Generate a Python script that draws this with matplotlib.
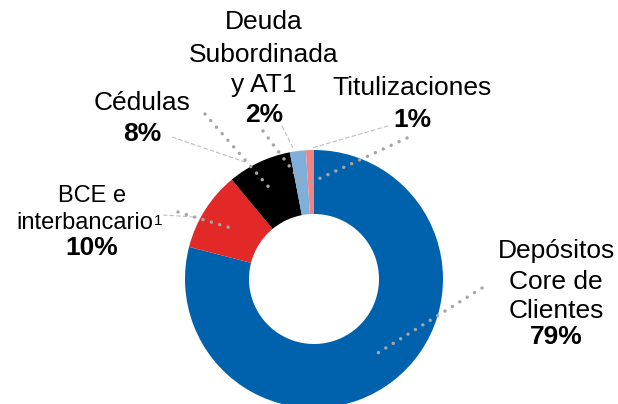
import matplotlib.pyplot as plt

# funding mix, clockwise from 12 o'clock
labels = ["Depósitos\nCore de\nClientes", "BCE e\ninterbancario", "Cédulas",
          "Deuda\nSubordinada\ny AT1", "Titulizaciones"]
shares = [79, 10, 8, 2, 1]
colors = ["#0062AD", "#E32828", "#000000", "#7FB0DC", "#F28484"]

W, H = 618, 404
plt.rcParams['font.family'] = ['Liberation Sans', 'DejaVu Sans']

fig = plt.figure(figsize=(W / 100, H / 100), dpi=100)
ax = fig.add_axes([0, 0, 1, 1])

# y axis inverted, so pixel rows can be used directly
ax.pie(shares, colors=colors, startangle=-90, counterclock=True,
       center=(314, 279), radius=129, frame=True,
       wedgeprops=dict(width=64, edgecolor='none', linewidth=0))
ax.set_xlim(0, W)
ax.set_ylim(H, 0)
ax.set_aspect('auto')
ax.axis('off')

# label blocks: centre x of each line, baseline of each line, font size of the name lines
label_pos = [
    ([556, 556, 556, 556], [258, 289, 318, 344], 19),
    ([92, 85, 92], [202, 229, 255], 17),
    ([142, 142], [110, 141], 19),
    ([264, 264, 264, 264], [29, 62, 92, 122], 19),
    ([412, 412], [95, 127], 19),
]
name_texts = []
for lab, share, (xs, ys, fs) in zip(labels, shares, label_pos):
    lines = lab.split("\n")
    for line, x, y in zip(lines, xs, ys):
        t = ax.text(x, y, line, ha='center', va='baseline', fontsize=fs, color='#000000')
        name_texts.append(t)
    ax.text(xs[-1], ys[-1], f"{share}%", ha='center', va='baseline', fontsize=19,
            fontweight='bold', color='#000000')

# footnote mark after "interbancario"
inter = [t for t in name_texts if t.get_text() == "interbancario"][0]
ax.annotate("1", xy=(1, 0), xycoords=inter, xytext=(0.5, 6.5),
            textcoords='offset points', ha='left', va='baseline', fontsize=11)

# thin dashed leader lines
dashed = [
    ((388, 126), (312, 148)),
    ((282, 126), (293, 148)),
    ((172, 137), (248, 163)),
    ((163, 215), (195, 217)),
]
for (x0, y0), (x1, y1) in dashed:
    ax.plot([x0, x1], [y0, y1], color='#BFBFBF', lw=0.8, ls=(0, (4, 2)), zorder=3)

# dotted connectors
dotted = [
    ((482, 288), (373, 356)),
    ((178, 212), (231, 228)),
    ((205, 114), (273, 192)),
    ((263, 131), (302, 183)),
    ((407, 138), (312, 182)),
]
for (x0, y0), (x1, y1) in dotted:
    ax.plot([x0, x1], [y0, y1], color='#A6A6A6', lw=2.5, ls=(0, (0.01, 2.5)),
            solid_capstyle='round', dash_capstyle='round', zorder=4)

fig.savefig("out.png", dpi=100)
